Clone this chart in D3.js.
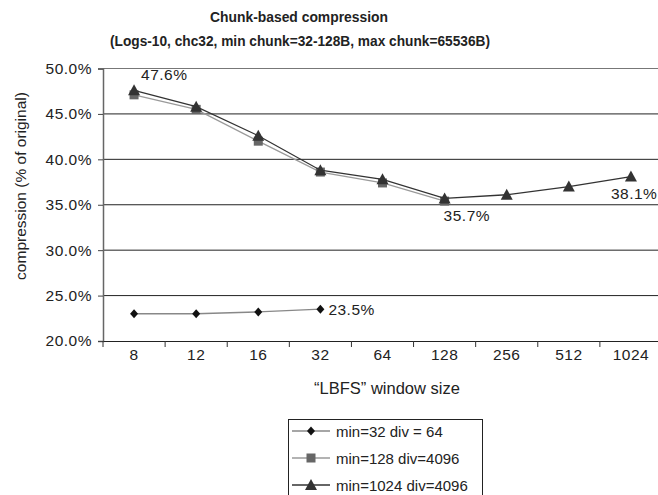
<!DOCTYPE html>
<html><head><meta charset="utf-8">
<script src="https://cdn.jsdelivr.net/npm/d3@7"></script>
<style>body{margin:0;background:#fff;} svg{display:block;font-family:"Liberation Sans",Arial,sans-serif;}</style>
</head><body>
<svg id="c" width="658" height="495"></svg>
<script>
const categories = ["8","12","16","32","64","128","256","512","1024"];
const seriesNames = ["min=32 div = 64","min=128 div=4096","min=1024 div=4096"];
const s1 = [23.0, 23.0, 23.2, 23.5, null, null, null, null, null];
const s2 = [47.1, 45.5, 42.0, 38.6, 37.4, 35.4, null, null, null];
const s3 = [47.6, 45.8, 42.6, 38.8, 37.8, 35.7, 36.1, 37.0, 38.1];
const yTicks = [20, 25, 30, 35, 40, 45, 50];
const labels = [
  {series: 2, idx: 0, text: "47.6%", dx: 7, dy: -10},
  {series: 2, idx: 5, text: "35.7%", dx: -1, dy: 23},
  {series: 2, idx: 8, text: "38.1%", dx: -20, dy: 22},
  {series: 0, idx: 3, text: "23.5%", dx: 8, dy: 6}
];

const svg = d3.select("#c");
const L = 103, R = 662, T = 68.5, B = 341;
const x = d3.scaleBand().domain(categories).range([L, R]).padding(0);
const y = d3.scaleLinear().domain([20, 50]).range([B, T]);
const cx = c => x(c) + x.bandwidth() / 2;
const FS = 15.5, LS = 0.5;

// title
svg.append("text").attr("x", 299).attr("y", 22).attr("text-anchor", "middle")
  .attr("font-size", 15).attr("font-weight", "bold").attr("fill", "#222")
  .attr("textLength", 178).attr("lengthAdjust", "spacingAndGlyphs").text("Chunk-based compression");
svg.append("text").attr("x", 300).attr("y", 46).attr("text-anchor", "middle")
  .attr("font-size", 15).attr("font-weight", "bold").attr("fill", "#222")
  .attr("textLength", 380).attr("lengthAdjust", "spacingAndGlyphs")
  .text("(Logs-10, chc32, min chunk=32-128B, max chunk=65536B)");

// gridlines
svg.append("g").selectAll("line").data(yTicks.filter(d => d > 20)).join("line")
  .attr("x1", L).attr("x2", R).attr("y1", d => y(d)).attr("y2", d => y(d))
  .attr("stroke", d => d === 50 ? "#777" : "#222").attr("stroke-width", 1);

// y axis
const ya = svg.append("g").attr("transform", `translate(${L},0)`)
  .call(d3.axisLeft(y).tickValues(yTicks).tickSize(5).tickFormat(d => d.toFixed(1) + "%"));
ya.select(".domain").attr("stroke", "#666").attr("stroke-width", 1.5);
ya.selectAll(".tick line").attr("stroke", "#444");
ya.selectAll(".tick text").attr("font-size", FS).attr("letter-spacing", LS).attr("fill", "#222")
  .attr("font-family", "Liberation Sans, Arial, sans-serif").attr("dx", -3);

// x axis
const xa = svg.append("g").attr("transform", `translate(0,${B})`)
  .call(d3.axisBottom(x).tickSize(0).tickSizeOuter(0));
xa.select(".domain").attr("stroke", "#222").attr("stroke-width", 1.2);
xa.selectAll(".tick text").attr("font-size", FS).attr("letter-spacing", LS).attr("fill", "#222")
  .attr("dy", 16).attr("font-family", "Liberation Sans, Arial, sans-serif");
// tick marks at band edges
svg.append("g").selectAll("line").data(categories).join("line")
  .attr("x1", d => x(d)).attr("x2", d => x(d)).attr("y1", B).attr("y2", B + 6)
  .attr("stroke", "#333");

// axis titles
svg.append("text").attr("transform", `translate(26,186) rotate(-90)`)
  .attr("text-anchor", "middle").attr("font-size", 15.5).attr("fill", "#222")
  .text("compression (% of original)");
svg.append("text").attr("x", 387).attr("y", 394).attr("text-anchor", "middle")
  .attr("font-size", 16.5).attr("fill", "#222").text("\u201CLBFS\u201D window size");

const all = [s1, s2, s3];
const lineColors = ["#888", "#9a9a9a", "#333"];
const markColors = ["#111", "#666", "#333"];
const line = d3.line().defined(d => d.v != null).x(d => cx(d.c)).y(d => y(d.v));

function marker(g, type, color) {
  if (type === 0) g.append("path").attr("d", "M0,-4.5L4,0L0,4.5L-4,0Z").attr("fill", color);
  else if (type === 1) g.append("rect").attr("x", -4.5).attr("y", -4.5).attr("width", 9).attr("height", 9).attr("fill", color);
  else g.append("path").attr("d", "M0,-6L6,5L-6,5Z").attr("fill", color);
}

all.forEach((s, i) => {
  const data = categories.map((c, j) => ({c, v: s[j]}));
  svg.append("path").datum(data).attr("d", line).attr("fill", "none")
    .attr("stroke", lineColors[i]).attr("stroke-width", 1.3);
  data.filter(d => d.v != null).forEach(d => {
    const g = svg.append("g").attr("transform", `translate(${cx(d.c)},${y(d.v)})`);
    marker(g, i, markColors[i]);
  });
});

// data labels
labels.forEach(l => {
  const c = categories[l.idx];
  svg.append("text").attr("x", cx(c) + l.dx).attr("y", y(all[l.series][l.idx]) + l.dy)
    .attr("font-size", FS).attr("letter-spacing", LS).attr("fill", "#222").text(l.text);
});

// legend
const lg = svg.append("g");
lg.append("rect").attr("x", 288.5).attr("y", 419.5).attr("width", 194).attr("height", 80)
  .attr("fill", "#fff").attr("stroke", "#222").attr("stroke-width", 1);
seriesNames.forEach((n, i) => {
  const yy = 431 + i * 27;
  lg.append("line").attr("x1", 292).attr("x2", 330).attr("y1", yy).attr("y2", yy)
    .attr("stroke", lineColors[i]).attr("stroke-width", 1.3);
  const g = lg.append("g").attr("transform", `translate(311,${yy})`);
  marker(g, i, markColors[i]);
  lg.append("text").attr("x", 336).attr("y", yy + 5.5).attr("font-size", 15).attr("fill", "#222").text(n);
});
</script>
</body></html>
